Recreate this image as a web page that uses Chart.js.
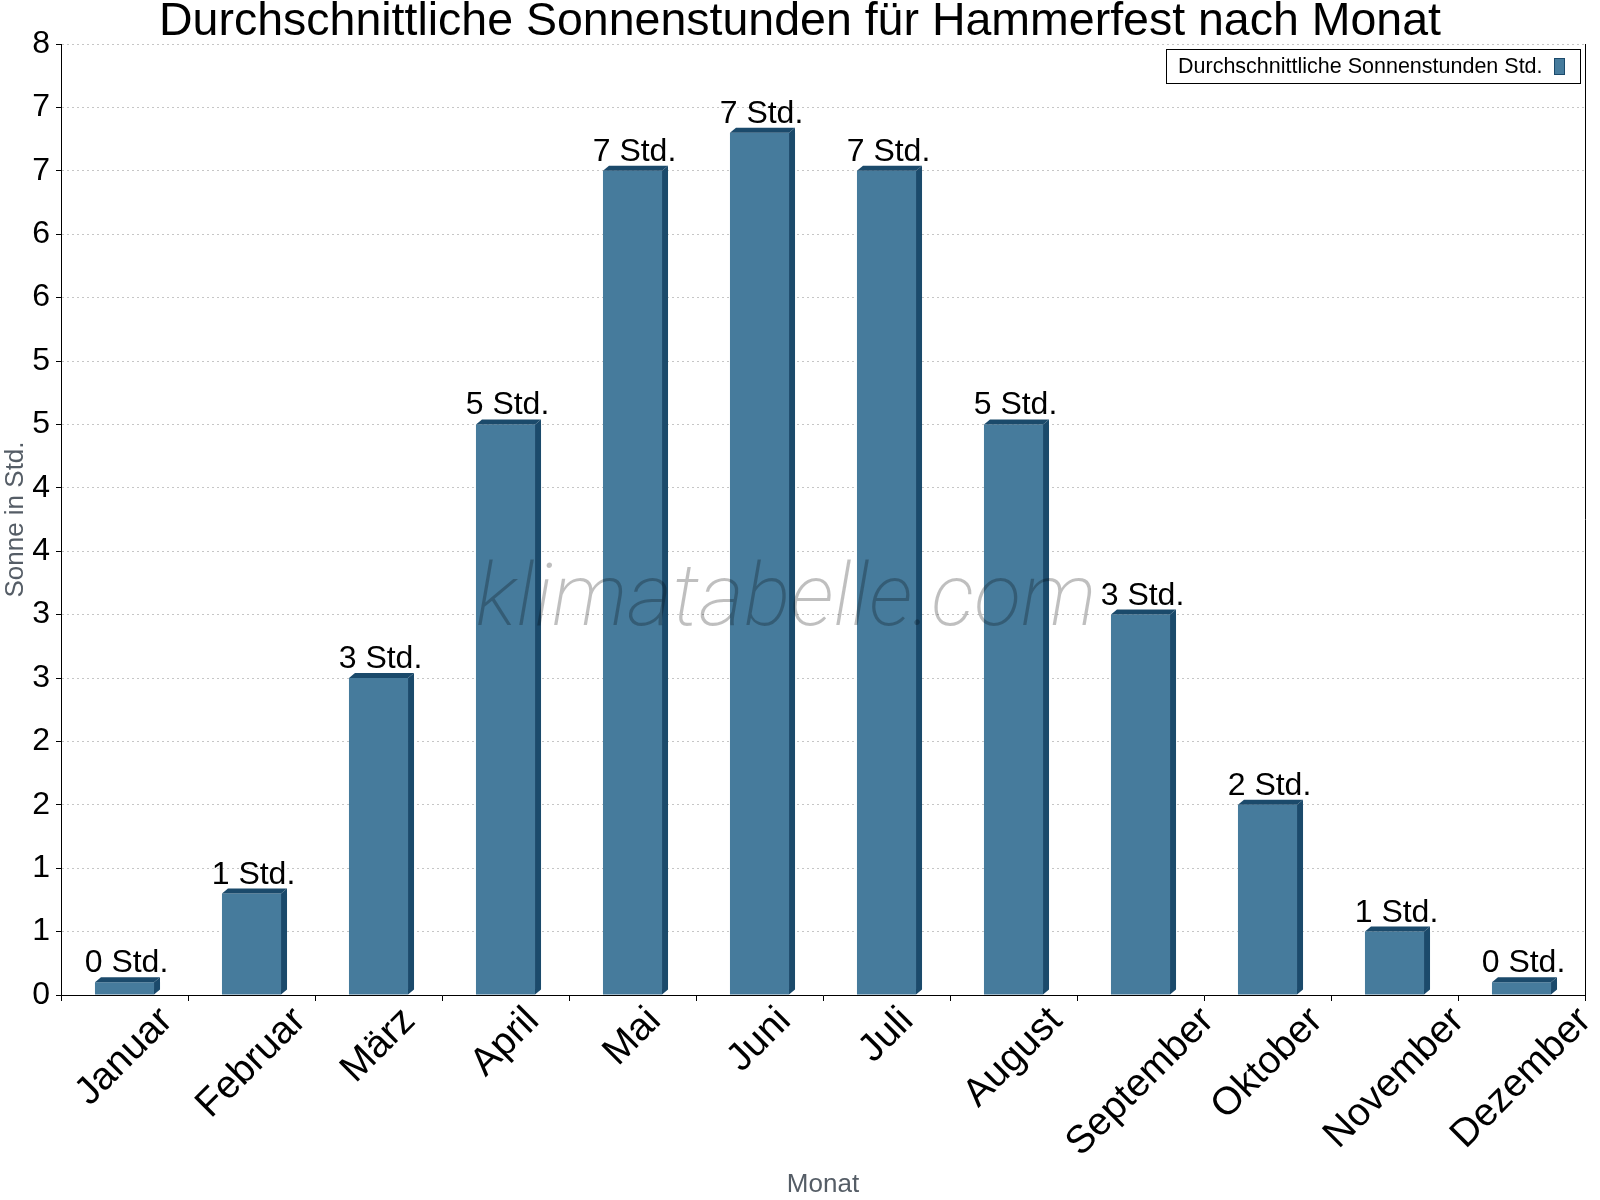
<!DOCTYPE html>
<html lang="de">
<head>
<meta charset="utf-8">
<title>Sonnenstunden Hammerfest</title>
<script src="https://cdn.jsdelivr.net/npm/chart.js@4.4.1/dist/chart.umd.min.js"></script>
<style>
	html, body { margin: 0; padding: 0; background: #fff; }
	#wrap { width: 1600px; height: 1200px; }
</style>
</head>
<body>
<div id="wrap"><canvas id="sunChart" width="1600" height="1200"></canvas></div>
<script>
const months = ['Januar', 'Februar', 'März', 'April', 'Mai', 'Juni', 'Juli', 'August', 'September', 'Oktober', 'November', 'Dezember'];
const sunHours = [0.1, 0.8, 2.5, 4.5, 6.5, 6.8, 6.5, 4.5, 3.0, 1.5, 0.5, 0.1];
const seriesName = 'Durchschnittliche Sonnenstunden Std.';
const chartTitle = 'Durchschnittliche Sonnenstunden für Hammerfest nach Monat';
const yTitle = 'Sonne in Std.';
const xTitle = 'Monat';
const unit = 'Std.';

const FONT = '"Liberation Sans", Arial, sans-serif';
const barFront = '#467b9c';
const barDark = '#1b4a6b';
const depthX = 6;
const depthY = 5;

// side + top faces of the bars, drawn from the bar elements
const bar3d = {
	id: 'bar3d',
	afterDatasetsDraw(chart) {
		const ctx = chart.ctx;
		chart.getDatasetMeta(0).data.forEach(bar => {
			const x0 = bar.x - bar.width / 2;
			const x1 = bar.x + bar.width / 2;
			const top = bar.y;
			const base = bar.base;
			ctx.save();
			ctx.fillStyle = barDark;
			ctx.beginPath();
			ctx.moveTo(x1, top);
			ctx.lineTo(x1 + depthX, top - depthY);
			ctx.lineTo(x1 + depthX, base - depthY);
			ctx.lineTo(x1, base);
			ctx.closePath();
			ctx.fill();
			ctx.beginPath();
			ctx.moveTo(x0, top);
			ctx.lineTo(x0 + depthX, top - depthY);
			ctx.lineTo(x1 + depthX, top - depthY);
			ctx.lineTo(x1, top);
			ctx.closePath();
			ctx.fill();
			ctx.restore();
		});
	},
};

const extras = {
	id: 'extras',
	afterDraw(chart) {
		const ctx = chart.ctx;
		const area = chart.chartArea;
		const xs = chart.scales.x;

		// title, centred on the page
		ctx.save();
		ctx.font = '46.5px ' + FONT;
		ctx.fillStyle = '#000';
		ctx.textAlign = 'center';
		ctx.textBaseline = 'middle';
		ctx.fillText(chartTitle, chart.width / 2, 22);
		ctx.restore();

		// right frame line
		ctx.save();
		ctx.strokeStyle = '#000';
		ctx.lineWidth = 1;
		ctx.beginPath();
		ctx.moveTo(area.right + 0.5, area.top);
		ctx.lineTo(area.right + 0.5, area.bottom);
		ctx.stroke();
		ctx.restore();

		// watermark
		ctx.save();
		ctx.font = 'italic 200 87px Roboto';
		ctx.fillStyle = 'rgba(0, 0, 0, 0.25)';
		ctx.textAlign = 'center';
		ctx.textBaseline = 'alphabetic';
		ctx.fillText('klimatabelle.com', area.left + 725, area.top + 581);
		ctx.restore();

		// value labels
		ctx.save();
		ctx.font = '32px ' + FONT;
		ctx.fillStyle = '#000';
		ctx.textAlign = 'center';
		ctx.textBaseline = 'alphabetic';
		chart.getDatasetMeta(0).data.forEach((bar, i) => {
			ctx.fillText(Math.round(sunHours[i]) + ' ' + unit, bar.x + 2, bar.y - 10);
		});
		ctx.restore();

		// rotated month labels, centred under each category
		ctx.save();
		const fs = 39;
		ctx.font = fs + 'px ' + FONT;
		ctx.fillStyle = '#000';
		ctx.textAlign = 'center';
		ctx.textBaseline = 'middle';
		months.forEach((m, i) => {
			const x = xs.getPixelForTick(i);
			const w = ctx.measureText(m).width;
			const cy = area.bottom + 6 + 0.3536 * (w + fs * 1.0);
			ctx.save();
			ctx.translate(x, cy);
			ctx.rotate(-Math.PI / 4);
			ctx.fillText(m, 0, 0);
			ctx.restore();
		});
		ctx.restore();

		// legend box, text left of the swatch
		ctx.save();
		ctx.font = '21.5px ' + FONT;
		const right = area.right - 5;
		const left = 1166;
		const top = 49;
		const h = 34;
		ctx.fillStyle = '#fff';
		ctx.fillRect(left, top, right - left, h);
		ctx.strokeStyle = '#000';
		ctx.lineWidth = 1;
		ctx.strokeRect(left + 0.5, top + 0.5, right - left, h);
		ctx.fillStyle = '#000';
		ctx.textAlign = 'left';
		ctx.textBaseline = 'middle';
		ctx.fillText(chart.data.datasets[0].label, left + 12, top + h / 2 + 1);
		ctx.fillStyle = barFront;
		ctx.fillRect(right - 26, top + 9, 10, 16);
		ctx.strokeStyle = barDark;
		ctx.strokeRect(right - 25.5, top + 9.5, 10, 16);
		ctx.restore();
	},
};

document.addEventListener('DOMContentLoaded', function () {
	const ctx = document.getElementById('sunChart').getContext('2d');

	new Chart(ctx, {
		type: 'bar',
		data: {
			labels: months,
			datasets: [
				{
					label: seriesName,
					data: sunHours,
					backgroundColor: barFront,
					borderWidth: 0,
					barPercentage: 0.465,
					categoryPercentage: 1,
				},
			],
		},
		options: {
			responsive: false,
			animation: false,
			devicePixelRatio: 1,
			layout: {
				padding: { left: 0, right: 15, top: 44, bottom: 0 },
			},
			scales: {
				x: {
					grid: {
						offset: true,
						drawOnChartArea: false,
						drawTicks: true,
						tickLength: 6,
						tickColor: '#000',
					},
					border: { color: '#000', width: 1 },
					ticks: { display: false },
					title: {
						display: true,
						text: xTitle,
						color: '#555d66',
						font: { family: FONT, size: 26 },
						padding: { top: 0, bottom: 0 },
					},
					afterFit(scale) {
						scale.height = 205;
						scale.paddingLeft = 0;
						scale.paddingRight = 0;
					},
				},
				y: {
					min: 0,
					max: 7.5,
					grid: {
						color: '#c6c6c6',
						tickColor: '#000',
						tickLength: 5,
					},
					border: { color: '#000', width: 1, dash: [2, 3] },
					ticks: {
						stepSize: 0.5,
						padding: 6,
						color: '#000',
						font: { family: FONT, size: 32 },
						callback: value => Math.round(value),
					},
					title: {
						display: true,
						text: yTitle,
						color: '#555d66',
						font: { family: FONT, size: 26 },
						padding: { top: 0, bottom: 0 },
					},
					afterFit(scale) {
						scale.width = 61;
					},
				},
			},
			plugins: {
				title: { display: false },
				legend: { display: false },
				tooltip: { enabled: false },
			},
		},
		plugins: [bar3d, extras],
	});
});
</script>
</body>
</html>
